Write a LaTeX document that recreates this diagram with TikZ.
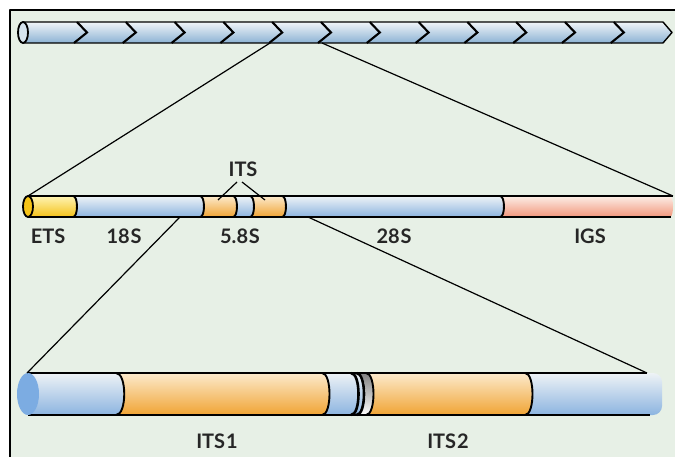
\documentclass[tikz,border=0pt]{standalone}
\usepackage{fontspec}
\setmainfont{Lato}
\usetikzlibrary{calc}
\definecolor{bg}{HTML}{E7F0E6}
\definecolor{txt}{HTML}{262626}
\definecolor{bluetop}{RGB}{238,243,246}
\definecolor{bluebot}{RGB}{140,180,224}
\definecolor{ortop}{RGB}{252,234,204}
\definecolor{orbot}{RGB}{240,164,52}
\definecolor{yetop}{RGB}{254,244,180}
\definecolor{yebot}{RGB}{244,194,24}
\definecolor{pitop}{RGB}{252,238,230}
\definecolor{pibot}{RGB}{242,150,124}
\definecolor{tbtop}{RGB}{240,245,248}
\definecolor{tbbot}{RGB}{140,178,212}
\definecolor{capA}{RGB}{214,228,238}
\definecolor{capB}{RGB}{245,196,24}
\definecolor{capC}{RGB}{124,172,226}
\newcommand\tseg[6]{\shade[#6] (#1,#3) -- (#2,#3) .. controls (#2+#5,#3) and (#2+#5,#4) .. (#2,#4) -- (#1,#4) .. controls (#1+#5,#4) and (#1+#5,#3) .. (#1,#3) -- cycle;}
\newcommand\tarc[5]{\draw[#5] (#1,#2) .. controls (#1+#4,#2) and (#1+#4,#3) .. (#1,#3);}
\tikzset{
  tubeblue/.style={top color=bluetop, bottom color=bluebot},
  tubeorange/.style={top color=ortop, bottom color=orbot},
  tubeyellow/.style={top color=yetop, bottom color=yebot},
  tubepink/.style={top color=pitop, bottom color=pibot},
  topblue/.style={top color=tbtop, bottom color=tbbot},
  outl/.style={line width=1.4pt, black},
  arcl/.style={line width=1.9pt, black},
  arcthick/.style={line width=2.6pt, black},
  conn/.style={line width=1.2pt, black},
  chev/.style={line width=2.1pt, black, line join=miter},
  lab/.style={font=\fontsize{20}{22}\selectfont\bfseries, text=txt, anchor=base, inner sep=0pt},
}
\begin{document}
\begin{tikzpicture}[x=1pt,y=-1pt,line join=round]
\useasboundingbox (0,0) rectangle (675,457);
\fill[white] (0,0) rectangle (675,457);
\fill[bg] (10,10) rectangle (675,457);
\draw[line width=1.3pt] (10,457) -- (10,10) -- (675,10);

% ---------- top tube ----------
\shade[topblue] (23,22) -- (663,22) -- (672,32.5) -- (663,43) -- (23,43) -- cycle;
\draw[outl] (23,22) -- (663,22) -- (672,32.5) -- (663,43) -- (23,43);
\draw[outl, line width=1.8pt, fill=capA] (23,32.5) ellipse [x radius=5, y radius=10.5];
\foreach \t in {87,135.8,184.6,233.4,282.2,331,379.8,428.6,477.4,526.2,575,623.8}{
  \draw[chev] (\t-10,22) -- (\t,32.5) -- (\t-13,43);
}

% ---------- middle tube ----------
\tseg{28}{73}{196}{217}{5.3}{tubeyellow}
\tseg{73}{200}{196}{217}{5.3}{tubeblue}
\tseg{200}{233}{196}{217}{5.3}{tubeorange}
\tseg{233}{250}{196}{217}{5.3}{tubeblue}
\tseg{250}{282}{196}{217}{5.3}{tubeorange}
\tseg{282}{500}{196}{217}{5.3}{tubeblue}
\tseg{500}{670}{196}{217}{4}{tubepink}
\foreach \b in {73,200,233,250,282,500}{\tarc{\b}{196}{217}{5.3}{arcl}}
\draw[outl] (28,196) -- (673,196);
\draw[outl] (28,217) -- (671,217);
\draw[outl, line width=1.8pt, fill=capB] (28,206.5) ellipse [x radius=5, y radius=10.5];

% ---------- bottom tube ----------
\tseg{28}{116}{373}{415}{11}{tubeblue}
\tseg{116}{322}{373}{415}{10}{tubeorange}
\tseg{322}{358}{373}{415}{10}{tubeblue}
\tseg{358}{366}{373}{415}{10}{fill=white}
\tseg{366}{525}{373}{415}{10}{tubeorange}
\shade[tubeblue] (525,373) [rounded corners=9] -- (662,373) -- (662,415) [sharp corners] -- (525,415) .. controls (535,415) and (535,373) .. (525,373) -- cycle;
\tarc{116}{373}{415}{11}{arcl}
\tarc{322}{373}{415}{10}{arcl}
\tarc{351}{373}{415}{10}{arcthick}
\tarc{356.5}{373}{415}{10}{arcthick}
\tarc{366}{373}{415}{10}{arcl}
\tarc{525}{373}{415}{10}{arcl}
\draw[outl] (27,373) -- (647,373);
\draw[line width=1.8pt] (28,415) -- (650,415);
\fill[capC] (28,394) ellipse [x radius=11, y radius=21];

% ---------- connectors ----------
\coordinate (t1) at (270,43);
\coordinate (t2) at (322,43);
\coordinate (m0) at (28,196);
\coordinate (m1) at (673,196);
\coordinate (m2) at (180,217);
\coordinate (m3) at (308,217);
\coordinate (b0) at (27,373);
\coordinate (b1) at (647,373);
\draw[conn] (t1) -- (m0);
\draw[conn] (t2) -- (m1);
\draw[conn] (m2) -- (b0);
\draw[conn] (m3) -- (b1);

% ---------- labels ----------
\node[lab] (its) at (243,177) {ITS};
\coordinate (itsa) at (237,182);
\coordinate (itsb) at (242,182);
\coordinate (its1) at (218,200);
\coordinate (its2) at (265,200);
\draw[conn] (itsa) -- (its1);
\draw[conn] (itsb) -- (its2);
\node[lab] (ets) at (48,244) {ETS};
\node[lab] (s18) at (124,244) {18\kern0.8pt S};
\node[lab] (s58) at (240,244) {5.8\kern0.8pt S};
\node[lab] (s28) at (394,244) {28\kern0.8pt S};
\node[lab] (igs) at (590,244) {IGS};
\node[lab] (itsone) at (217,448) {ITS\kern1pt 1};
\node[lab] (itstwo) at (448,448) {ITS\kern1pt 2};
\end{tikzpicture}
\end{document}
